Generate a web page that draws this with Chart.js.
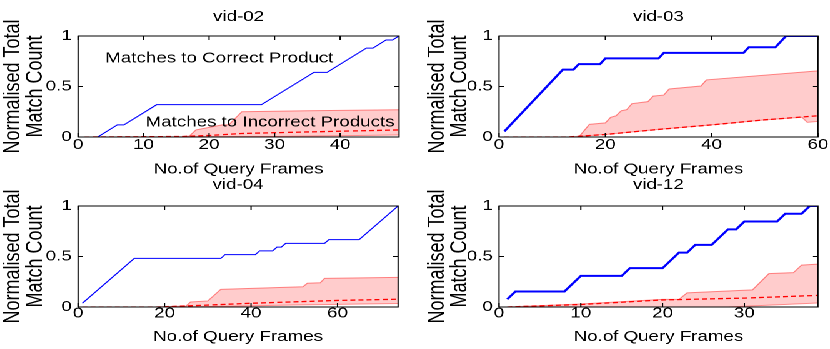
<!DOCTYPE html>
<html>
<head>
<meta charset="utf-8">
<script src="https://cdn.jsdelivr.net/npm/chart.js@4.4.0/dist/chart.umd.min.js"></script>
<style>
  html, body { margin: 0; padding: 0; background: #fff; }
  body { width: 830px; height: 349px; overflow: hidden; position: relative; }
  /* the source figure is stretched sideways, so the whole sheet is drawn narrow and widened */
  #stage { position: absolute; left: 0; top: 0; width: 664px; height: 349px; transform: scaleX(1.25); transform-origin: 0 0; }
  #stage canvas { position: absolute; }
</style>
</head>
<body>
<div id="stage">
  <canvas id="c02" width="332" height="180" style="left:0px;top:0px"></canvas>
  <canvas id="c03" width="332" height="180" style="left:332px;top:0px"></canvas>
  <canvas id="c04" width="332" height="180" style="left:0px;top:170px"></canvas>
  <canvas id="c12" width="332" height="180" style="left:332px;top:170px"></canvas>
</div>
<script>
// [frame, normalised count] break points
const yTicks = [0, 0.5, 1];

const vid02Ticks = [0, 10, 20, 30, 40];
const vid02Correct = [[1, 0], [3, 0], [6, 0.12], [7, 0.12], [12, 0.32], [28, 0.32], [36, 0.64], [38, 0.64], [44, 0.88], [45, 0.88], [47, 0.96], [48, 0.96], [49, 1]];
const vid02Mean = [[1, 0], [16, 0.005], [20, 0.015], [25, 0.035], [35, 0.05], [49, 0.07]];
const vid02Upper = [[1, 0], [16, 0], [17, 0.01], [18, 0.07], [22, 0.12], [23, 0.12], [25, 0.25], [35, 0.26], [49, 0.27]];
const vid02Lower = [[1, 0], [30, 0.005], [49, 0.02]];

const vid03Ticks = [0, 20, 40, 60];
const vid03Correct = [[1, 0.056], [12, 0.667], [14, 0.667], [15, 0.722], [19, 0.722], [20, 0.778], [30, 0.778], [31, 0.833], [46, 0.833], [47, 0.889], [52, 0.889], [54, 1], [60, 1]];
const vid03Mean = [[1, 0], [13, 0], [20, 0.025], [30, 0.075], [40, 0.12], [50, 0.17], [60, 0.21]];
const vid03Upper = [[1, 0], [15, 0], [17, 0.125], [20, 0.14], [21, 0.195], [22, 0.21], [23, 0.26], [24, 0.27], [25, 0.33], [28, 0.35], [29, 0.405], [31, 0.415], [32, 0.475], [38, 0.505], [39, 0.565], [60, 0.655]];
const vid03Lower = [[1, 0], [13, 0], [20, 0.025], [30, 0.075], [40, 0.12], [50, 0.17], [57, 0.195], [58, 0.145], [60, 0.155]];

const vid04Ticks = [0, 20, 40, 60];
const vid04Correct = [[1, 0.037], [13, 0.481], [33, 0.481], [34, 0.519], [41, 0.519], [42, 0.556], [45, 0.556], [46, 0.593], [47, 0.593], [48, 0.63], [57, 0.63], [58, 0.667], [65, 0.667], [74, 1]];
const vid04Mean = [[1, 0], [18, 0], [25, 0.01], [40, 0.037], [60, 0.065], [74, 0.077]];
const vid04Upper = [[1, 0], [18, 0], [25, 0.01], [26, 0.05], [30, 0.06], [33, 0.175], [52, 0.2], [53, 0.235], [56, 0.24], [57, 0.283], [74, 0.293]];
const vid04Lower = [[1, 0], [25, 0], [50, 0.02], [74, 0.035]];

const vid12Ticks = [0, 10, 20, 30];
const vid12Correct = [[1, 0.077], [2, 0.154], [8, 0.154], [10, 0.308], [15, 0.308], [16, 0.385], [20, 0.385], [22, 0.538], [23, 0.538], [24, 0.615], [26, 0.615], [28, 0.769], [29, 0.769], [30, 0.846], [34, 0.846], [35, 0.923], [37, 0.923], [38, 1], [39, 1]];
const vid12Mean = [[1, 0], [10, 0.025], [20, 0.07], [30, 0.088], [39, 0.115]];
const vid12Upper = [[1, 0], [10, 0.03], [20, 0.075], [22, 0.075], [23, 0.14], [31, 0.17], [33, 0.33], [36, 0.34], [37, 0.415], [39, 0.425]];
const vid12Lower = [[1, 0], [28, 0], [39, 0.04]];

const FONT = '"Liberation Sans", Arial, Helvetica, sans-serif';
Chart.defaults.font.family = FONT;
Chart.defaults.font.size = 15;
Chart.defaults.color = '#000';

const toPts = arr => arr.map(p => ({ x: p[0], y: p[1] }));

// box round the plot, inward tick marks, text notes
const framePlugin = {
  id: 'frame',
  afterDatasetsDraw(chart, args, opts) {
    const { ctx, chartArea: a } = chart;
    const x = chart.scales.x, y = chart.scales.y;
    ctx.save();
    ctx.strokeStyle = '#000';
    ctx.lineWidth = 1;
    ctx.strokeRect(a.left, a.top, a.right - a.left, a.bottom - a.top);
    ctx.beginPath();
    x.ticks.forEach(t => {
      const px = x.getPixelForValue(t.value);
      ctx.moveTo(px, a.bottom); ctx.lineTo(px, a.bottom - 4);
      ctx.moveTo(px, a.top); ctx.lineTo(px, a.top + 4);
    });
    y.ticks.forEach(t => {
      const py = y.getPixelForValue(t.value);
      ctx.moveTo(a.left, py); ctx.lineTo(a.left + 4, py);
      ctx.moveTo(a.right, py); ctx.lineTo(a.right - 4, py);
    });
    ctx.stroke();
    ctx.font = '15px ' + FONT;
    ctx.fillStyle = '#000';
    ctx.textBaseline = 'middle';
    (opts.notes || []).forEach(n => {
      ctx.fillText(n.text, x.getPixelForValue(n.x), y.getPixelForValue(n.y));
    });
    ctx.restore();
  }
};

function makeChart(id, o) {
  const ctx = document.getElementById(id).getContext('2d');
  return new Chart(ctx, {
    type: 'line',
    data: {
      datasets: [
        { data: toPts(o.correct), borderColor: '#0000ff', borderWidth: o.lw, pointRadius: 0, tension: 0, fill: false },
        { data: toPts(o.mean), borderColor: '#ff0000', borderWidth: 1.3, borderDash: [4, 2.5], pointRadius: 0, tension: 0, fill: false },
        { data: toPts(o.lower), borderColor: 'rgba(255,0,0,0.4)', borderWidth: 1, pointRadius: 0, tension: 0, fill: false },
        { data: toPts(o.upper), borderColor: 'rgba(255,0,0,0.45)', borderWidth: 1, pointRadius: 0, tension: 0,
          fill: { target: 2 }, backgroundColor: 'rgba(255,0,0,0.2)' }
      ]
    },
    options: {
      responsive: false,
      animation: false,
      devicePixelRatio: 2,
      layout: { padding: { left: 0, right: o.rightPad, top: 0, bottom: 0 } },
      plugins: {
        legend: { display: false },
        tooltip: { enabled: false },
        title: {
          display: true, text: o.title, fullSize: false, color: '#000',
          font: { family: FONT, size: 15, weight: 'normal', lineHeight: 1.2 },
          padding: { top: o.titleTop, bottom: 36 - 18 - o.titleTop }
        },
        frame: { notes: o.notes || [] }
      },
      scales: {
        x: {
          type: 'linear', min: 0, max: o.xMax,
          afterBuildTicks: s => { s.ticks = o.xTicks.map(v => ({ value: v })); },
          afterFit: s => { s.height = 43; },
          grid: { display: false, drawTicks: false }, border: { display: false },
          ticks: { font: { size: 15, lineHeight: 1.2 }, padding: o.xTickPad, maxRotation: 0 },
          title: { display: true, text: 'No.of Query Frames', font: { size: 15, lineHeight: 1.2 }, padding: { top: 0, bottom: o.xTitleBottom } }
        },
        y: {
          type: 'linear', min: 0, max: 1,
          afterBuildTicks: s => { s.ticks = yTicks.map(v => ({ value: v })); },
          afterFit: s => { s.width = o.yWidth; },
          grid: { display: false, drawTicks: false }, border: { display: false },
          ticks: { font: { size: 15 }, padding: 5, callback: v => String(v) },
          title: { display: true, text: ['Normalised Total', 'Match Count'], font: { size: 18, lineHeight: 1.0 },
                   padding: { top: o.yTitleTop, bottom: 0 } }
        }
      }
    },
    plugins: [framePlugin]
  });
}

makeChart('c02', {
  title: 'vid-02', correct: vid02Correct, mean: vid02Mean, upper: vid02Upper, lower: vid02Lower,
  xMax: 49, xTicks: vid02Ticks, lw: 1, rightPad: 12.8, yWidth: 62.4, titleTop: 8, xTickPad: -1, xTitleBottom: 1.5, yTitleTop: 1.5,
  notes: [
    { text: 'Matches to Correct Product', x: 4.15, y: 0.78 },
    { text: 'Matches to Incorrect Products', x: 10.3, y: 0.145 }
  ]
});
makeChart('c03', {
  title: 'vid-03', correct: vid03Correct, mean: vid03Mean, upper: vid03Upper, lower: vid03Lower,
  xMax: 60, xTicks: vid03Ticks, lw: 2, rightPad: 9.6, yWidth: 67.2, titleTop: 8, xTickPad: -1, xTitleBottom: 1.5, yTitleTop: 9
});
makeChart('c04', {
  title: 'vid-04', correct: vid04Correct, mean: vid04Mean, upper: vid04Upper, lower: vid04Lower,
  xMax: 74, xTicks: vid04Ticks, lw: 1, rightPad: 13.6, yWidth: 62.4, titleTop: 6, xTickPad: -2.5, xTitleBottom: 4, yTitleTop: 1.5
});
makeChart('c12', {
  title: 'vid-12', correct: vid12Correct, mean: vid12Mean, upper: vid12Upper, lower: vid12Lower,
  xMax: 39, xTicks: vid12Ticks, lw: 2, rightPad: 9.6, yWidth: 67.2, titleTop: 6, xTickPad: -2.5, xTitleBottom: 4, yTitleTop: 9
});
</script>
</body>
</html>
